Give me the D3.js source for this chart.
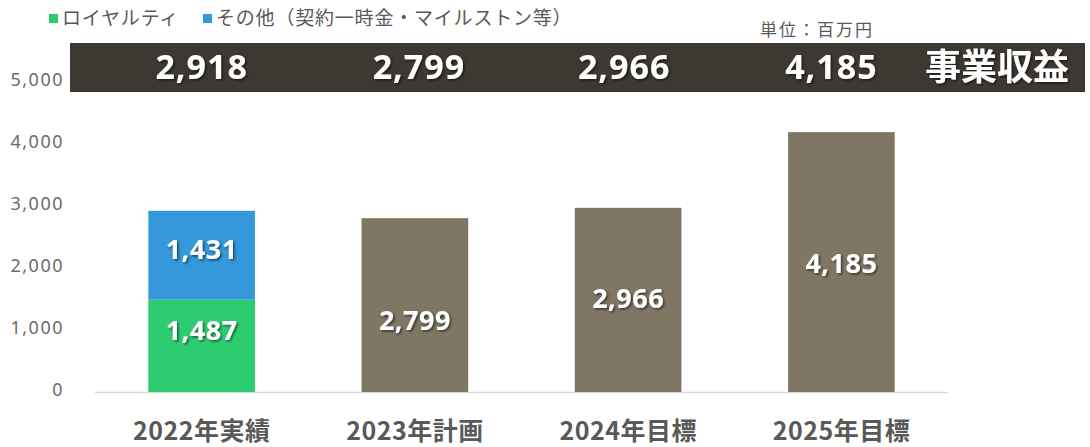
<!DOCTYPE html>
<html>
<head>
<meta charset="utf-8">
<script src="https://cdn.jsdelivr.net/npm/d3@7"></script>
<style>
  html, body { margin: 0; padding: 0; background: #fff; }
  svg { display: block; font-family: "Noto Sans CJK JP", "Noto Sans", sans-serif; }
</style>
</head>
<body>
<svg id="chart" width="1090" height="447"></svg>
<script>
// Revenue by year (unit: million yen)
const categories = ["2022年実績", "2023年計画", "2024年目標", "2025年目標"];
const royalty = [1487, null, null, null];
const other = [1431, null, null, null];
const totals = [2918, 2799, 2966, 4185];
const yTicks = [0, 1000, 2000, 3000, 4000, 5000];
const seriesNames = ["ロイヤルティ", "その他（契約一時金・マイルストン等）"];
const bannerTitle = "事業収益";
const unitLabel = "単位：百万円";

const colors = {
  royalty: "#2ecc71",
  other: "#3498db",
  plan: "#7f7764",
  banner: "#3d3832",
  text: "#595959",
  axis: "#6b6b6b"
};

const svg = d3.select("#chart");
const fmt = d3.format(",");

const x = d3.scaleBand().domain(categories).range([95, 948])
  .paddingInner(0.5).paddingOuter(0.25);
const y = d3.scaleLinear().domain([0, 5000]).range([392, 81.5]);
const cx = c => x(c) + x.bandwidth() / 2;

// soft drop shadow for the value labels
const defs = svg.append("defs");
const f = defs.append("filter").attr("id", "shadow")
  .attr("x", "-20%").attr("y", "-20%").attr("width", "140%").attr("height", "160%");
f.append("feDropShadow").attr("dx", 1.5).attr("dy", 1.5).attr("stdDeviation", 1)
  .attr("flood-color", "#000").attr("flood-opacity", 0.55);

// y axis labels (no line, no ticks)
const yAxis = d3.axisLeft(y).tickValues(yTicks).tickFormat(fmt).tickSize(0).tickPadding(0);
const yg = svg.append("g").attr("transform", "translate(64,-2)").call(yAxis);
yg.select(".domain").remove();
yg.selectAll("text").attr("fill", colors.axis).style("font-size", "18px")
  .style("letter-spacing", "1.5px")
  .style("font-family", "'Noto Sans', 'DejaVu Sans', sans-serif");

// baseline
svg.append("line").attr("x1", 95).attr("x2", 948)
  .attr("y1", y(0) + 0.5).attr("y2", y(0) + 0.5)
  .attr("stroke", "#d9d9d9").attr("stroke-width", 1.5);

// bars
const bars = svg.append("g");
categories.forEach((c, i) => {
  if (royalty[i] != null) {
    bars.append("rect").attr("x", x(c)).attr("width", x.bandwidth())
      .attr("y", y(royalty[i])).attr("height", y(0) - y(royalty[i]))
      .attr("fill", colors.royalty);
    bars.append("rect").attr("x", x(c)).attr("width", x.bandwidth())
      .attr("y", y(royalty[i] + other[i])).attr("height", y(royalty[i]) - y(royalty[i] + other[i]))
      .attr("fill", colors.other);
  } else {
    bars.append("rect").attr("x", x(c)).attr("width", x.bandwidth())
      .attr("y", y(totals[i])).attr("height", y(0) - y(totals[i]))
      .attr("fill", colors.plan);
  }
});

// value labels inside bars (nudged vertically per bar)
const labels = svg.append("g").attr("filter", "url(#shadow)")
  .style("font-family", "'Open Sans', 'Noto Sans', sans-serif")
  .style("font-weight", "700").style("font-size", "27px")
  .style("letter-spacing", "0.5px")
  .attr("fill", "#fff").attr("text-anchor", "middle");
const totalNudge = [0, 15, -1, 1];
categories.forEach((c, i) => {
  if (royalty[i] != null) {
    labels.append("text").attr("x", cx(c)).attr("y", y(royalty[i] / 2) - 15).attr("dy", "0.35em")
      .text(fmt(royalty[i]));
    labels.append("text").attr("x", cx(c)).attr("y", y(royalty[i] + other[i] / 2) - 6).attr("dy", "0.35em")
      .text(fmt(other[i]));
  } else {
    labels.append("text").attr("x", cx(c)).attr("y", y(totals[i] / 2) + totalNudge[i]).attr("dy", "0.35em")
      .text(fmt(totals[i]));
  }
});

// category axis
const xAxis = d3.axisBottom(x).tickSize(0).tickPadding(0);
const xg = svg.append("g").attr("transform", "translate(0,422)").call(xAxis);
xg.select(".domain").remove();
xg.selectAll("text").attr("fill", colors.text)
  .style("font-size", "25px").style("font-weight", "700")
  .style("letter-spacing", "0.5px")
  .style("font-family", "'Noto Sans CJK JP', sans-serif");

// totals banner
svg.append("rect").attr("x", 70).attr("y", 43).attr("width", 1015).attr("height", 49)
  .attr("fill", colors.banner);
const banner = svg.append("g").attr("filter", "url(#shadow)").attr("fill", "#fff");
const bannerOffsets = [0, 4, -4, -10];
categories.forEach((c, i) => {
  banner.append("text").attr("x", cx(c) + bannerOffsets[i]).attr("y", 67)
    .attr("dy", "0.35em").attr("text-anchor", "middle")
    .style("font-family", "'Open Sans', 'Noto Sans', sans-serif")
    .style("font-weight", "700").style("font-size", "34px")
    .style("letter-spacing", "1px")
    .text(fmt(totals[i]));
});
banner.append("text").attr("x", 997).attr("y", 67).attr("dy", "0.35em")
  .attr("text-anchor", "middle")
  .style("font-family", "'Noto Sans CJK JP', sans-serif")
  .style("font-weight", "700").style("font-size", "36px")
  .text(bannerTitle);

// legend
const legend = svg.append("g").style("font-size", "19px").attr("fill", colors.text);
const legendItems = [
  { name: seriesNames[0], color: colors.royalty, x: 49 },
  { name: seriesNames[1], color: colors.other, x: 203 }
];
legendItems.forEach(d => {
  legend.append("rect").attr("x", d.x).attr("y", 14).attr("width", 9).attr("height", 9).attr("fill", d.color);
  legend.append("text").attr("x", d.x + 13).attr("y", 18).attr("dy", "0.35em")
    .style("letter-spacing", "0.8px").text(d.name);
});

// unit
svg.append("text").attr("x", 760).attr("y", 30).attr("dy", "0.35em")
  .attr("fill", colors.text).style("font-size", "17px").style("letter-spacing", "2px")
  .text(unitLabel);
</script>
</body>
</html>
